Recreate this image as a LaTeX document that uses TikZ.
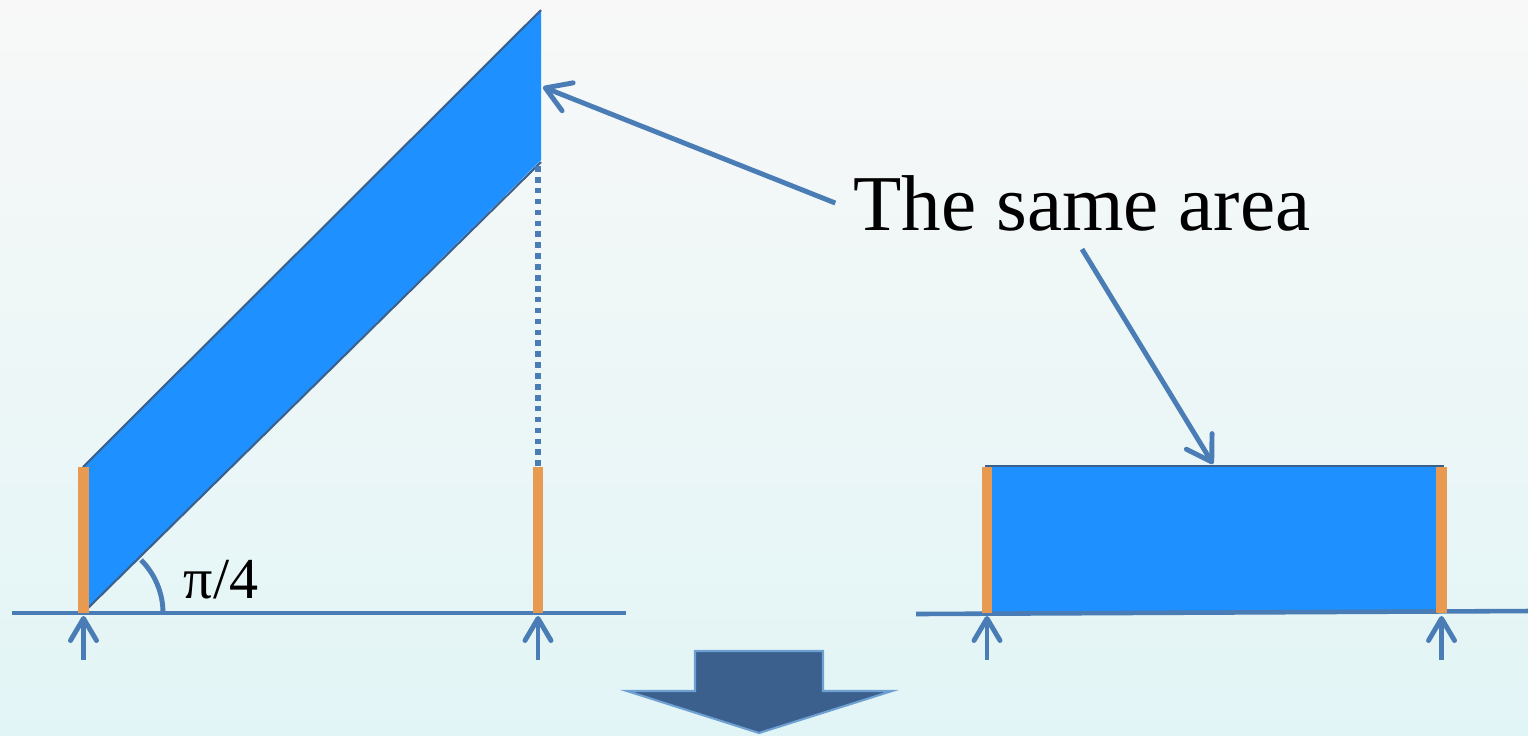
\documentclass[tikz,border=0pt]{standalone}
\usepackage{fontspec}
\setmainfont{Liberation Serif}
\usetikzlibrary{arrows.meta}
\definecolor{areablue}{RGB}{30,144,255}
\definecolor{linkblue}{RGB}{74,124,181}
\definecolor{edgeblue}{RGB}{58,96,140}
\definecolor{barorange}{RGB}{232,154,80}
\definecolor{bgtop}{RGB}{248,248,248}
\definecolor{bgbottom}{RGB}{226,245,246}
\definecolor{bigarrow}{RGB}{60,96,142}
\definecolor{bigedge}{RGB}{110,160,210}
\begin{document}
\begin{tikzpicture}[x=0.01cm,y=-0.01cm,base/.style={linkblue,line width=1.3pt},support/.style={linkblue,line width=1.4pt,-{Straight Barb[length=2.2mm,width=2.6mm,round]}},pointer/.style={linkblue,line width=1.4pt,-{Straight Barb[length=2.4mm,width=3mm,round]}},edgebar/.style={barorange,line width=3.1pt},rim/.style={edgeblue,line width=0.6pt}]
\shade[top color=bgtop,bottom color=bgbottom] (0,0) rectangle (1528,735); \useasboundingbox (0,0) rectangle (1528,735);
\coordinate (slant) at (543,87); \coordinate (flat) at (1213,464);
\fill[areablue] (83,467) -- (83,613) -- (541,160) -- (541,10) -- cycle; \draw[rim] (83,467) -- (541,10); \draw[rim] (86,610) -- (541,162);
\draw[linkblue,line width=1.6pt,dash pattern=on 1.6pt off 1.5pt] (538,166) -- (538,466);
\fill[areablue] (987,466) rectangle (1441,613); \draw[rim] (985,466) -- (1444,466);
\draw[base] (12,613) -- (626,613); \draw[base] (916,614) -- (1528,611);
\foreach \x in {83.5,538,987,1441.5} {\draw[edgebar] (\x,467) -- (\x,613); \draw[support] (\x,660) -- (\x,616);}
\draw[linkblue,line width=1.4pt] (163,613) arc[start angle=0,end angle=-45,radius=75];
\node[font=\fontsize{16.5}{19}\selectfont] (angle) at (221,580) {π/4};
\node[font=\fontsize{22.5}{27}\selectfont,inner sep=5pt] (same) at (1082,203) {The same area};
\draw[pointer] (same.west) -- (slant); \draw[pointer] (same.south) -- (flat);
\filldraw[fill=bigarrow,draw=bigedge,line width=0.6pt] (695,651) -- (823,651) -- (823,691) -- (892,691) -- (759,733) -- (627,691) -- (695,691) -- cycle;
\end{tikzpicture}
\end{document}
